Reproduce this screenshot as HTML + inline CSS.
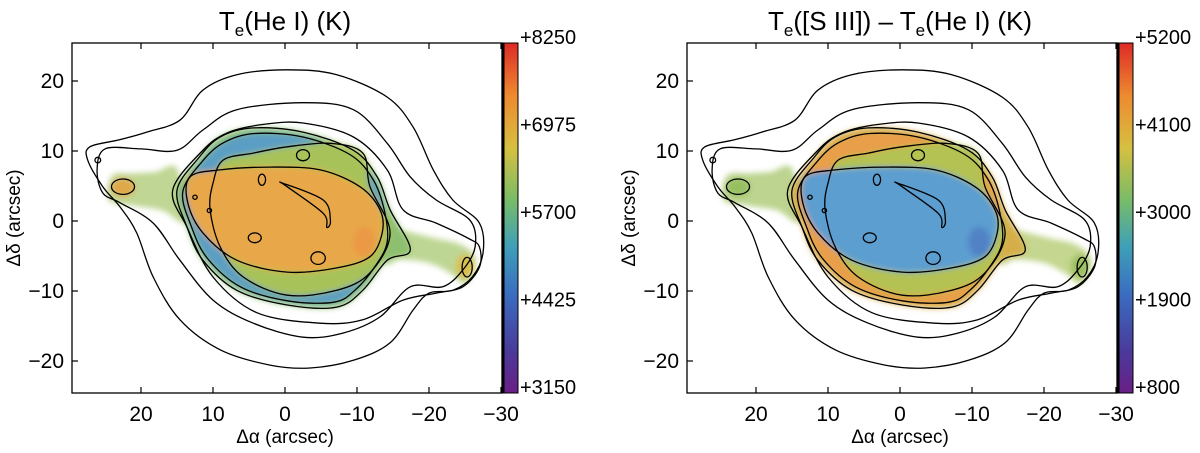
<!DOCTYPE html>
<html><head><meta charset="utf-8"><style>
body{margin:0;background:#fff;}
svg{display:block;font-family:"Liberation Sans",Arial,sans-serif;}
</style></head><body>
<svg id="chart" width="1200" height="453" viewBox="0 0 1200 453" xmlns="http://www.w3.org/2000/svg">
<defs>
<filter id="blur" x="-20%" y="-20%" width="140%" height="140%"><feGaussianBlur stdDeviation="3"/></filter>
<linearGradient id="cbar" x1="0" y1="1" x2="0" y2="0">
<stop offset="0" stop-color="#6a1f86"/><stop offset="0.12" stop-color="#4a3a9a"/>
<stop offset="0.28" stop-color="#3a6cc0"/><stop offset="0.42" stop-color="#3fa0b8"/>
<stop offset="0.55" stop-color="#78bc68"/><stop offset="0.7" stop-color="#d6c040"/>
<stop offset="0.85" stop-color="#ee8a30"/><stop offset="1" stop-color="#dd2a26"/>
</linearGradient>
</defs>
</svg>
<script>
const xTicks=[20,10,0,-10,-20,-30];
const yTicks=[20,10,0,-10,-20];
const cbarLeft=["+8250","+6975","+5700","+4425","+3150"];
const cbarRight=["+5200","+4100","+3000","+1900","+800"];
const contourOuter=[[27.1,10.6],[23,11.6],[19.2,12.7],[14.6,14.4],[11.4,18.7],[6.7,20.9],[-0.3,21.6],[-7.2,20.9],[-14.2,17.7],[-17.8,13.4],[-20.6,7.3],[-23.3,3],[-27,-0.3],[-27.5,-4.6],[-26,-8],[-23.3,-9.9],[-20,-10.3],[-17.8,-12.7],[-14.6,-17.4],[-9.5,-19.9],[-3.5,-21],[2,-20.6],[9,-18.4],[14.6,-14.1],[18.3,-8],[20.6,-1.7],[22.9,2],[25.3,4.9],[27.4,8.7]];
const contour2=[[25,10.3],[20,10.3],[15,10.1],[11.4,13],[6.7,15.9],[-2.5,16.9],[-9.5,15.9],[-14.2,11.1],[-17.4,6.3],[-21,3],[-25.7,0.1],[-26.4,-3.7],[-24.7,-7],[-21.9,-9.4],[-17.4,-9.4],[-13.2,-13.7],[-8.1,-16],[-2.5,-16.6],[4.4,-14.6],[10,-11.3],[14.6,-5.6],[18.3,-0.3],[22.9,2.6],[25.3,4],[26.1,7.3]];
const contour3=[[15.6,4.4],[11.5,10],[8,12.6],[3,13.8],[-2.5,14],[-9.5,12],[-14.2,7.3],[-16.4,1.6],[-21,-0.3],[-25.5,-2.5],[-27,-3.7],[-27,-6.6],[-24.7,-9.4],[-21,-10.3],[-16.4,-11.3],[-10.8,-14.1],[-4.9,-14.6],[3.9,-13.1],[10,-8],[13.6,-0.9]];
const contour4=[[15,4.4],[12,9],[9,12],[4.4,13.3],[-2.5,12.7],[-9.5,10.1],[-12.8,6.3],[-14.6,1.6],[-17.4,-4.1],[-14.2,-5.6],[-10.8,-9.9],[-7.2,-12.3],[-0.3,-12],[6.7,-9.9],[11.4,-5.6],[13.6,-0.9]];
const contour5=[[14.2,4.2],[11.5,8.5],[8.5,11.2],[4.2,12.5],[-2.5,12],[-9,9.5],[-12.2,6],[-13.8,1.5],[-14.2,-3],[-12.5,-6.5],[-9.8,-9.8],[-6.8,-11.6],[-0.3,-11.4],[6.2,-9.4],[10.8,-5.3],[13,-0.8]];
const contour6=[[8.6,8.7],[4.4,9.7],[-0.3,10.6],[-6.3,11.1],[-10.8,9.7],[-11.8,4.9],[-14.6,-1.7],[-11.8,-7.4],[-7.2,-9.9],[-0.3,-10.6],[5.8,-8],[9,-3.7],[10.4,1.6],[10,5.4]];
const contour7=[[13.2,6.3],[9,7.3],[2.1,7.7],[-4.9,7.3],[-10.4,4.9],[-13.2,1.6],[-13.5,-1.7],[-11.8,-5.1],[-7.2,-6.7],[-0.3,-7.3],[6.7,-5.6],[11.4,-1.7],[13.5,2.6]];
const filament=[[0.3,5.4],[-5.3,3],[-6.3,0.1],[-5.8,-0.9],[-5.3,1.1],[-0.3,4.9]];
const blobs=[[-2.5,9.4,0.9,0.8],[3.2,5.9,0.5,0.8],[4.2,-2.4,0.9,0.7],[-4.6,-5.3,1,0.9],[22.5,4.9,1.6,1.1],[-25.3,-6.6,0.7,1.4],[26,8.7,0.4,0.4],[12.5,3.4,0.3,0.3],[10.5,1.5,0.3,0.3]];
const jetL=[[15,7.5],[18,7],[21,6.8],[24,6.5],[24.5,3],[21,2.2],[17,1.5],[14,0]];
const jetR=[[-13,-0.5],[-17,-1.5],[-21,-2.5],[-24,-3.2],[-26,-4.5],[-26.5,-6.5],[-25,-9],[-23,-7.5],[-20,-6],[-16,-5.5],[-14,-6]];

const svg=document.getElementById('chart');
const NS='http://www.w3.org/2000/svg';
function mk(tag,attrs,parent){const e=document.createElementNS(NS,tag);for(const k in attrs)e.setAttribute(k,attrs[k]);(parent||svg).appendChild(e);return e;}

const panels=[
 {off:0,cb:cbarLeft,cols:{ring:'#5a9ec4',mid:'#a8c25a',inner:'#e8a84a',base:'#8cbf70',jetL:'#a9c870',jetTip:'#e0a84a',jetR:'#a8c870',hot:'#ec8f42',rightTip:'#d8c050'}},
 {off:615,cb:cbarRight,cols:{ring:'#e99e48',mid:'#b4c252',inner:'#5c9ed0',base:'#d6ae48',jetL:'#a6c66a',jetTip:'#96c060',jetR:'#b0c868',hot:'#4a70c0',rightTip:'#9cc060'}}
];

panels.forEach((P,pi)=>{
 const g=mk('g',{});
 
 
 const X0=72+P.off,X1=502+P.off,T=43,B=393;
 const sx=x=>285+P.off-x*7.2;
 const sy=y=>221-y*7;
 const path=(pts)=>{
  const q=pts.map(p=>[sx(p[0]),sy(p[1])]);const n=q.length;
  let d='M'+q[0][0].toFixed(1)+','+q[0][1].toFixed(1);
  for(let i=0;i<n;i++){
   const p0=q[(i-1+n)%n],p1=q[i],p2=q[(i+1)%n],p3=q[(i+2)%n];
   const c1=[p1[0]+(p2[0]-p0[0])/6,p1[1]+(p2[1]-p0[1])/6];
   const c2=[p2[0]-(p3[0]-p1[0])/6,p2[1]-(p3[1]-p1[1])/6];
   d+='C'+c1.map(v=>v.toFixed(1)).join(',')+' '+c2.map(v=>v.toFixed(1)).join(',')+' '+p2.map(v=>v.toFixed(1)).join(',');
  }
  return d+'Z';
 };
 const cg=mk('g',{filter:'url(#blur)'},g);
 
 
 mk('path',{d:path(jetL),fill:P.cols.jetL,opacity:0.75},cg);
 mk('path',{d:path(jetR),fill:P.cols.jetR,opacity:0.75},cg);
 mk('ellipse',{cx:sx(-25),cy:sy(-6.5),rx:9,ry:12,fill:P.cols.rightTip},cg);
 mk('ellipse',{cx:sx(22.5),cy:sy(4.8),rx:12,ry:9,fill:P.cols.jetTip},cg);
 mk('path',{d:path(contour4),fill:P.cols.base},cg);
 mk('path',{d:path(contour5),fill:P.cols.ring},cg);
 mk('path',{d:path(contour6),fill:P.cols.mid},cg);
 mk('path',{d:path(contour7),fill:P.cols.inner},cg);
 mk('ellipse',{cx:sx(-11),cy:sy(-3),rx:11,ry:15,fill:P.cols.hot,opacity:0.6},cg);
 const ct=mk('g',{fill:'none',stroke:'#000','stroke-width':1.3,'stroke-linejoin':'round'},g);
 
 
 [contourOuter,contour2,contour3,contour4,contour5,contour6,contour7,filament].forEach(c=>{
  const e=mk('path',{d:path(c)},ct);
  
  
 });
 blobs.forEach(b=>{
  const e=mk('ellipse',{cx:sx(b[0]),cy:sy(b[1]),rx:b[2]*7.2,ry:b[3]*7},ct);
  
  
 });
 const fr=mk('rect',{x:X0,y:T,width:X1-X0,height:B-T,fill:'none',stroke:'#000','stroke-width':1.3},g);
 
 
 xTicks.forEach(v=>{
  const x=sx(v);
  mk('line',{x1:x,x2:x,y1:B,y2:B-6,stroke:'#000','stroke-width':1.2},g);
  mk('line',{x1:x,x2:x,y1:T,y2:T+6,stroke:'#000','stroke-width':1.2},g);
  const t=mk('text',{x:x,y:B+28,'text-anchor':'middle','font-size':21},g);
  t.textContent=(v<0?'\u2212'+(-v):v);
  
  
 });
 yTicks.forEach(v=>{
  const y=sy(v);
  mk('line',{x1:X0,x2:X0+6,y1:y,y2:y,stroke:'#000','stroke-width':1.2},g);
  const t=mk('text',{x:X0-8,y:y+7,'text-anchor':'end','font-size':21},g);
  t.textContent=(v<0?'\u2212'+(-v):v);
  
  
 });
 const xl=mk('text',{x:285+P.off,y:B+50,'text-anchor':'middle','font-size':19},g);
 xl.textContent='\u0394\u03B1 (arcsec)';
 
 
 const yl=mk('text',{x:0,y:0,'text-anchor':'middle','font-size':19,transform:`translate(${X0-52},${(T+B)/2}) rotate(-90)`},g);
 yl.textContent='\u0394\u03B4 (arcsec)';
 
 
 const cb=mk('rect',{x:X1,y:T,width:16,height:B-T,fill:'url(#cbar)',stroke:'#000','stroke-width':1},g);
 
 
 mk('rect',{x:X1,y:T,width:2.5,height:B-T,fill:'#000'},g);
 P.cb.forEach((s,i)=>{
  const y=T+i*(B-T)/(P.cb.length-1);
  const t=mk('text',{x:X1+18,y:y+1,'font-size':20},g);
  t.textContent=s;
  
  
 });
 const tt=mk('text',{x:285+P.off,y:30,'text-anchor':'middle','font-size':26},g);
 if(pi===0){tt.innerHTML='T<tspan font-size="17" dy="6">e</tspan><tspan dy="-6">(He I) (K)</tspan>';}
 else{tt.innerHTML='T<tspan font-size="17" dy="6">e</tspan><tspan dy="-6">([S III]) \u2013 T</tspan><tspan font-size="17" dy="6">e</tspan><tspan dy="-6">(He I) (K)</tspan>';}
 
 
});
</script>
</body></html>
